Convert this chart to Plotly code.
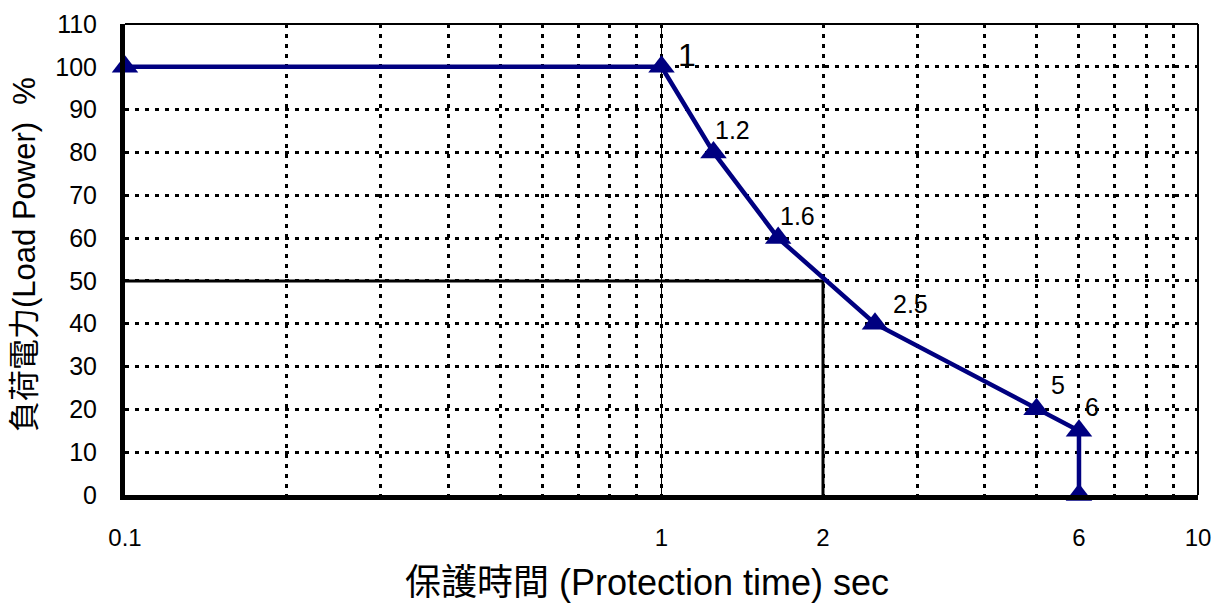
import numpy as np
import plotly.graph_objects as go

# Data
time_sec = [0.1, 1, 1.25, 1.65, 2.5, 5, 6, 6]
load_pct = [100, 100, 80, 60, 40, 20, 15, 0]

label_x = [1, 1.25, 1.65, 2.5, 5, 6]
label_y = [100, 80, 60, 40, 20, 15]
label_text = ["1", "1.2", "1.6", "2.5", "5", "6"]

x_grid_vals = [0.1, 0.2, 0.3, 0.4, 0.5, 0.6, 0.7, 0.8, 0.9,
               1, 2, 3, 4, 5, 6, 7, 8, 9, 10]
x_tick_show = {0.1: "0.1", 1: "1", 2: "2", 6: "6", 10: "10"}
y_tick_vals = list(range(0, 111, 10))

ref_h_x = [0.1, 2]
ref_h_y = [50, 50]
ref_v_x = [2, 2]
ref_v_y = [0, 50]
one_x = [1, 1]
one_y = [0, 110]

NAVY = "#000080"
FONT = "Liberation Sans, Arial, Noto Sans CJK TC, sans-serif"

fig = go.Figure()

# reference lines
fig.add_trace(go.Scatter(x=one_x, y=one_y, mode="lines",
                         line=dict(color="black", width=1), showlegend=False, hoverinfo="skip"))
fig.add_trace(go.Scatter(x=ref_h_x, y=ref_h_y, mode="lines",
                         line=dict(color="black", width=3), showlegend=False, hoverinfo="skip"))
fig.add_trace(go.Scatter(x=ref_v_x, y=ref_v_y, mode="lines",
                         line=dict(color="black", width=3), showlegend=False, hoverinfo="skip"))

# main series
fig.add_trace(go.Scatter(x=time_sec, y=load_pct, mode="lines+markers",
                         line=dict(color=NAVY, width=4.5),
                         marker=dict(symbol="triangle-up", size=23, color=NAVY),
                         showlegend=False, cliponaxis=False))

# point labels
shifts = {"1": (14, -8, 32), "1.2": (0, 6, 25), "1.6": (0, 6, 25),
          "2.5": (16, 4, 25), "5": (12, 8, 25), "6": (4, 8, 25)}
for xv, yv, t in zip(label_x, label_y, label_text):
    dx, dy, fs = shifts[t]
    fig.add_annotation(x=np.log10(xv), y=yv, text=t, showarrow=False,
                       xanchor="left", yanchor="bottom", xshift=dx, yshift=dy,
                       font=dict(size=fs, color="black", family=FONT))

# axis titles
fig.add_annotation(text="保護時間 (Protection time) sec", xref="paper", yref="paper",
                   x=0.4865, y=-0.185, xanchor="center", yanchor="middle", showarrow=False,
                   font=dict(size=36, color="black", family=FONT))
fig.add_annotation(text="負荷電力(Load Power) &nbsp;%", xref="paper", yref="paper",
                   x=-0.093, y=0.51, xanchor="center", yanchor="middle", showarrow=False,
                   textangle=-90, font=dict(size=31, color="black", family=FONT))

# top and right frame lines
fig.add_shape(type="line", xref="paper", yref="paper", x0=0, x1=1, y0=1, y1=1,
              line=dict(color="black", width=2))
fig.add_shape(type="line", xref="paper", yref="paper", x0=1, x1=1, y0=0, y1=1,
              line=dict(color="black", width=2))

fig.update_layout(
    width=1214, height=610,
    margin=dict(l=125, r=16, t=24, b=115),
    plot_bgcolor="white", paper_bgcolor="white",
    font=dict(family=FONT, color="black"),
    xaxis=dict(
        type="log", range=[-1, 1], automargin=False,
        tickvals=x_grid_vals,
        ticktext=[x_tick_show.get(v, "") for v in x_grid_vals],
        tickfont=dict(size=24),
        ticks="", ticklabelstandoff=17,
        showgrid=True, gridcolor="black", gridwidth=3, griddash="4px,6px",
        showline=True, linecolor="black", linewidth=5,
        zeroline=False,
    ),
    yaxis=dict(
        range=[0, 110], automargin=False,
        tickvals=y_tick_vals,
        tickfont=dict(size=25),
        ticks="", ticklabelstandoff=18,
        showgrid=True, gridcolor="black", gridwidth=3, griddash="4px,6px",
        showline=True, linecolor="black", linewidth=5,
        zeroline=False,
    ),
)

fig.write_html("out.html", config={"displayModeBar": False},
               post_script="document.body.style.margin='0px';document.body.style.overflow='hidden';")
